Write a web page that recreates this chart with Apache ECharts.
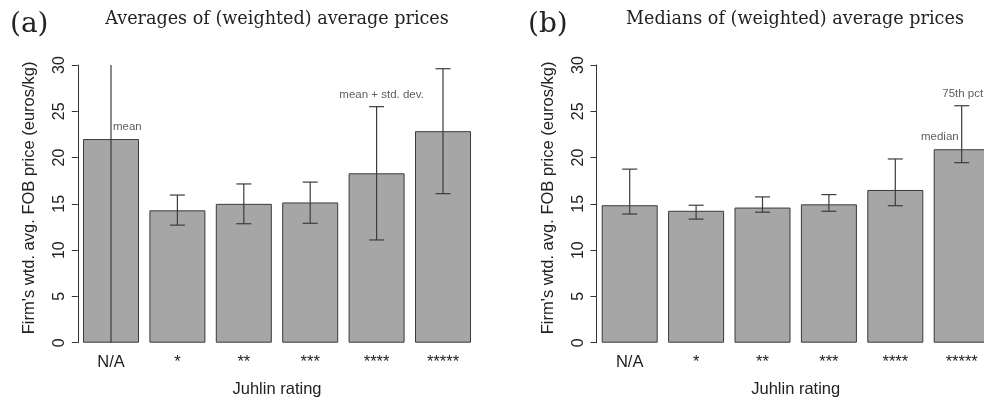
<!DOCTYPE html>
<html>
<head>
<meta charset="utf-8">
<script src="https://cdn.jsdelivr.net/npm/echarts@6/dist/echarts.min.js"></script>
<style>
html,body{margin:0;padding:0;background:#fff;}
#chart{width:984px;height:405px;}
</style>
</head>
<body>
<div id="chart"></div>
<script>
// ---- data ----
const categories = ['N/A', '*', '**', '***', '****', '*****'];
// panel (a): means, and mean - sd / mean + sd
const meanValues = [22.0, 14.3, 15.0, 15.15, 18.3, 22.85];
const meanLower  = [-2.0, 12.7, 12.85, 12.9, 11.1, 16.1];
const meanUpper  = [46.0, 15.95, 17.15, 17.35, 25.5, 29.6];
// panel (b): medians, 25th and 75th percentiles
const medianValues = [14.85, 14.25, 14.6, 14.95, 16.5, 20.9];
const pct25        = [13.9, 13.35, 14.1, 14.2, 14.8, 19.45];
const pct75        = [18.75, 14.85, 15.75, 16.0, 19.85, 25.6];
const yTicks = [0, 5, 10, 15, 20, 25, 30];
const titleA = 'Averages of (weighted) average prices';
const titleB = 'Medians of (weighted) average prices';
const yName = "Firm's wtd. avg. FOB price (euros/kg)";
const xName = 'Juhlin rating';

const SANS = 'Liberation Sans, Arial, sans-serif';
const SERIF = 'DejaVu Serif, serif';
const INK = '#333';

function errRender(params, api) {
  const x = api.value(0), lo = api.value(1), hi = api.value(2);
  const cs = params.coordSys;
  const pHi = api.coord([x, hi]);
  const pLo = api.coord([x, lo]);
  const top = cs.y, bot = cs.y + cs.height;
  const yHi = Math.max(pHi[1], top), yLo = Math.min(pLo[1], bot);
  const st = { stroke: '#3c3c3c', lineWidth: 1.2 };
  const half = 7.5;
  const ch = [{ type: 'line', shape: { x1: pHi[0], y1: yHi, x2: pHi[0], y2: yLo }, style: st }];
  if (pHi[1] >= top) ch.push({ type: 'line', shape: { x1: pHi[0] - half, y1: pHi[1], x2: pHi[0] + half, y2: pHi[1] }, style: st });
  if (pLo[1] <= bot) ch.push({ type: 'line', shape: { x1: pLo[0] - half, y1: pLo[1], x2: pLo[0] + half, y2: pLo[1] }, style: st });
  return { type: 'group', children: ch };
}

function xAxisCfg(i) {
  return {
    type: 'category', gridIndex: i, data: categories,
    axisLine: { show: false }, axisTick: { show: false },
    axisLabel: { fontFamily: SANS, fontSize: 16.5, color: '#222', margin: 11, interval: 0 },
    name: xName, nameLocation: 'middle', nameGap: 38,
    nameTextStyle: { fontFamily: SANS, fontSize: 16.5, color: '#222' }
  };
}
function yAxisCfg(i) {
  return {
    type: 'value', gridIndex: i, min: yTicks[0], max: yTicks[yTicks.length - 1], interval: yTicks[1] - yTicks[0],
    axisLine: { show: true, lineStyle: { color: INK, width: 1 } },
    axisTick: { show: true, length: 6, lineStyle: { color: INK } },
    splitLine: { show: false },
    axisLabel: { fontFamily: SANS, fontSize: 16, color: '#222', rotate: 90, margin: 10 },
    name: yName, nameLocation: 'middle', nameGap: 40,
    nameTextStyle: { fontFamily: SANS, fontSize: 16.5, color: '#222', padding: [0, 0, 0, 12] }
  };
}
function barSeries(i, vals) {
  return {
    type: 'bar', xAxisIndex: i, yAxisIndex: i, data: vals, barWidth: 56,
    itemStyle: { color: '#a6a6a6', borderColor: '#3a3a3a', borderWidth: 1 },
    emphasis: { disabled: true }, z: 2
  };
}
function errSeries(i, lo, hi) {
  return {
    type: 'custom', xAxisIndex: i, yAxisIndex: i, renderItem: errRender, z: 3,
    data: categories.map((c, k) => [k, lo[k], hi[k]]),
    encode: { x: 0, y: [1, 2] }
  };
}
const lblStyle = { show: true, fontFamily: SANS, fontSize: 11.5, color: '#333' };

const option = {
  animation: false,
  backgroundColor: '#fff',
  title: [
    { text: '(a)', left: 10, top: 11, padding: 0, textStyle: { fontFamily: SERIF, fontSize: 28, fontWeight: 'normal', color: '#222' } },
    { text: titleA, left: 277, top: 10, padding: 0, textAlign: 'center', textStyle: { fontFamily: SERIF, fontSize: 17.6, fontWeight: 'normal', color: '#222' } },
    { text: '(b)', left: 528, top: 11, padding: 0, textStyle: { fontFamily: SERIF, fontSize: 28, fontWeight: 'normal', color: '#222' } },
    { text: titleB, left: 795, top: 10, padding: 0, textAlign: 'center', textStyle: { fontFamily: SERIF, fontSize: 17.6, fontWeight: 'normal', color: '#222' } }
  ],
  grid: [
    { left: 77.8, top: 65, width: 398.4, height: 277.7, outerBoundsMode: 'none', containLabel: false },
    { left: 596.5, top: 65, width: 398.4, height: 277.7, outerBoundsMode: 'none', containLabel: false }
  ],
  xAxis: [xAxisCfg(0), xAxisCfg(1)],
  yAxis: [yAxisCfg(0), yAxisCfg(1)],
  series: [
    barSeries(0, meanValues),
    errSeries(0, meanLower, meanUpper),
    {
      type: 'scatter', xAxisIndex: 0, yAxisIndex: 0, symbolSize: 0, z: 4, silent: true,
      data: [
        { value: [0, meanValues[0]], label: Object.assign({}, lblStyle, { formatter: 'mean', position: 'top', align: 'left', offset: [2, -1] }) },
        { value: [4, meanUpper[4]], label: Object.assign({}, lblStyle, { formatter: 'mean + std. dev.', position: 'top', offset: [5, -1] }) }
      ]
    },
    barSeries(1, medianValues),
    errSeries(1, pct25, pct75),
    {
      type: 'scatter', xAxisIndex: 1, yAxisIndex: 1, symbolSize: 0, z: 4, silent: true,
      data: [
        { value: [5, medianValues[5]], label: Object.assign({}, lblStyle, { formatter: 'median', position: 'top', align: 'right', offset: [-3, -1] }) },
        { value: [5, pct75[5]], label: Object.assign({}, lblStyle, { formatter: '75th pct', position: 'top', offset: [1, -1] }) }
      ]
    }
  ]
};
const chart = echarts.init(document.getElementById('chart'), null, { renderer: 'canvas' });
chart.setOption(option);
</script>
</body>
</html>
